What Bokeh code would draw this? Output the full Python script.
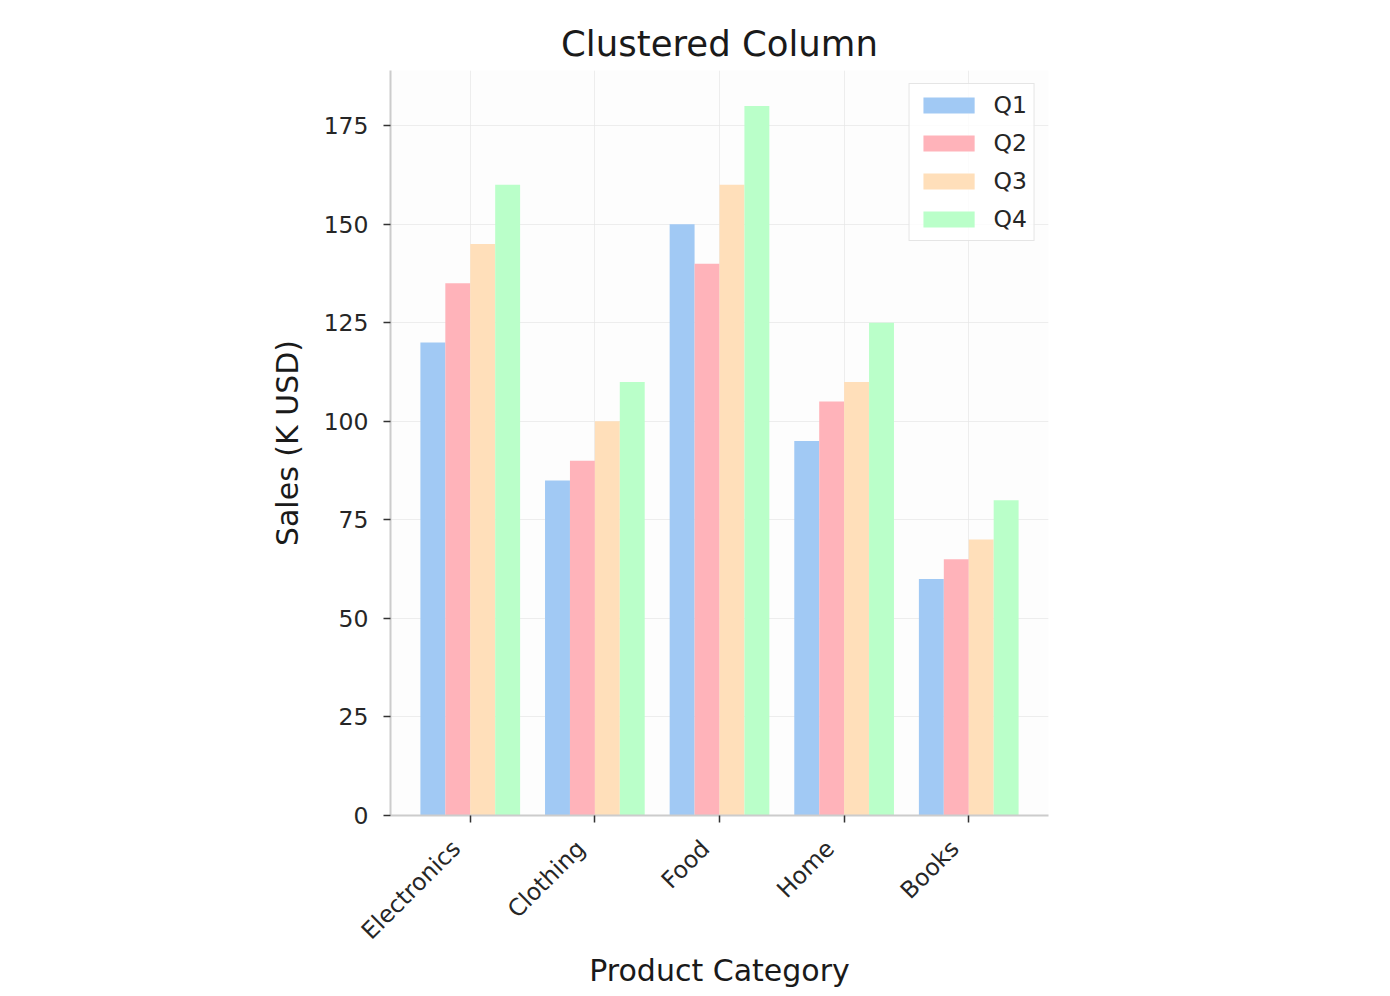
from math import pi
from bokeh.plotting import figure
from bokeh.models import ColumnDataSource, Range1d, FixedTicker, LinearAxis
from bokeh.transform import dodge
from bokeh.embed import file_html
from bokeh.resources import INLINE

categories = ["Electronics", "Clothing", "Food", "Home", "Books"]
quarters = ["Q1", "Q2", "Q3", "Q4"]
q1 = [120, 85, 150, 95, 60]
q2 = [135, 90, 140, 105, 65]
q3 = [145, 100, 160, 110, 70]
q4 = [160, 110, 180, 125, 80]
colors = ["#a1c9f4", "#ffb3ba", "#ffdfba", "#baffc9"]
y_ticks = [0, 25, 50, 75, 100, 125, 150, 175]

positions = list(range(len(categories)))
source = ColumnDataSource(dict(x=positions, Q1=q1, Q2=q2, Q3=q3, Q4=q4))

FONT = "DejaVu Sans"
TXT = "#262626"
X0, X1 = -0.64, 4.64
LABEL_SHIFT = 0.1125  # shifts rotated labels left like matplotlib's ha="right"

p = figure(width=1390, height=996, output_backend="svg", toolbar_location=None,
           x_range=Range1d(X0, X1), y_range=Range1d(0, 189),
           min_border_left=390, min_border_right=342, min_border_top=70,
           min_border_bottom=181, background_fill_color="#fdfdfd",
           border_fill_color="white", outline_line_color=None)
p.extra_x_ranges = {"lab": Range1d(X0 + LABEL_SHIFT, X1 + LABEL_SHIFT)}

bar_w = 0.2
offsets = [-0.3, -0.1, 0.1, 0.3]
for q, c, off in zip(quarters, colors, offsets):
    p.vbar(x=dodge("x", off), top=q, width=bar_w, source=source,
           fill_color=c, line_color=None, legend_label=q)

p.title.text = "Clustered Column"
p.title.align = "center"
p.title.text_font = FONT
p.title.text_font_size = "35.5px"
p.title.text_font_style = "normal"
p.title.text_color = "#1a1a1a"
p.title.standoff = 13

p.xaxis.ticker = FixedTicker(ticks=positions)
p.yaxis.ticker = FixedTicker(ticks=y_ticks)

for ax in (p.xaxis, p.yaxis):
    ax.axis_line_color = "#cccccc"
    ax.axis_line_width = 2
    ax.major_tick_line_color = "#333333"
    ax.major_tick_line_width = 1.5
    ax.major_tick_out = 7
    ax.major_tick_in = 0
    ax.minor_tick_line_color = None
    ax.major_label_text_font = FONT
    ax.major_label_text_font_size = "23.5px"
    ax.major_label_text_color = TXT
    ax.major_label_standoff = 15
    ax.axis_label_text_font = FONT
    ax.axis_label_text_font_size = "30px"
    ax.axis_label_text_font_style = "normal"
    ax.axis_label_text_color = "#1a1a1a"

# main x axis: line + ticks only
p.xaxis.major_label_overrides = {i: "" for i in positions}
p.xaxis.major_label_text_font_size = "1px"
p.xaxis.major_label_standoff = 0

# label axis: rotated category names + axis title
lab_axis = LinearAxis(x_range_name="lab", ticker=FixedTicker(ticks=positions),
                      major_label_overrides={i: c for i, c in zip(positions, categories)},
                      major_label_orientation=pi / 4,
                      axis_line_color=None, major_tick_line_color=None,
                      minor_tick_line_color=None, major_tick_out=0, major_tick_in=0,
                      major_label_standoff=22, major_label_text_font=FONT,
                      major_label_text_font_size="23.5px", major_label_text_color=TXT,
                      axis_label="Product Category", axis_label_standoff=-5,
                      axis_label_text_font=FONT, axis_label_text_font_size="30px",
                      axis_label_text_font_style="normal", axis_label_text_color="#1a1a1a")
p.add_layout(lab_axis, "below")

p.yaxis.axis_label = "Sales (K USD)"
p.yaxis.axis_label_standoff = 16

p.xgrid.ticker = FixedTicker(ticks=positions)
p.grid.grid_line_color = "#e6e6e6"
p.grid.grid_line_alpha = 0.7
p.grid.grid_line_width = 1

lg = p.legend[0]
lg.location = "top_right"
lg.margin = 13
lg.padding = 7
lg.spacing = 10
lg.glyph_width = 64
lg.glyph_height = 20
lg.label_height = 20
lg.label_standoff = 13
lg.label_text_font = FONT
lg.label_text_font_size = "23.5px"
lg.label_text_color = TXT
lg.border_line_color = "#cccccc"
lg.border_line_width = 1.5
lg.background_fill_color = "white"
lg.background_fill_alpha = 0.8

open("out.html", "w").write(file_html(p, INLINE))
